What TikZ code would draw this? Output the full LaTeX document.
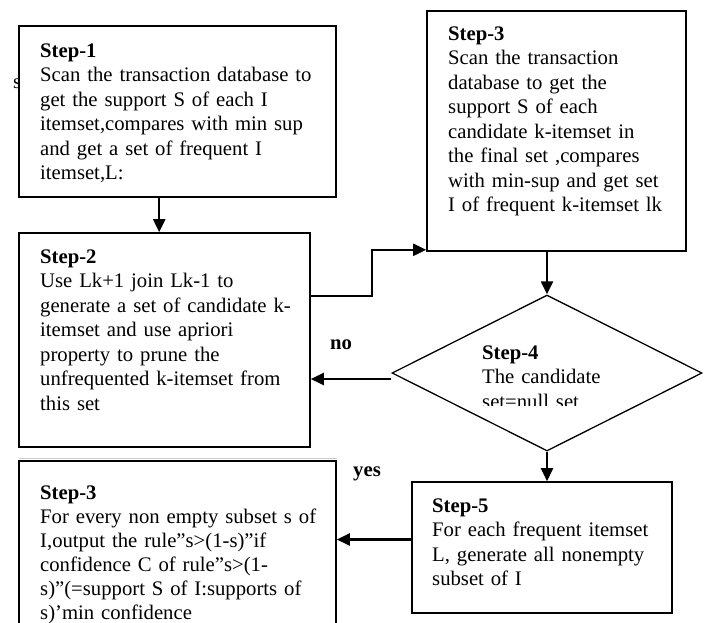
\documentclass[tikz,border=0pt]{standalone}
\usepackage{fontspec}
\setmainfont{Liberation Serif}
\usetikzlibrary{shapes.geometric,arrows.meta,calc}
\tikzset{
  boxstyle/.style={draw=black, line width=1.6pt, fill=white, rectangle, inner sep=0pt},
  diastyle/.style={draw=black, line width=1.3pt, fill=white, diamond, inner sep=0pt},
  txt/.style={anchor=base west, inner sep=0pt, align=left, text width=320pt,
    font=\fontsize{20.7}{24.5}\selectfont},
  lbl/.style={inner sep=0pt, font=\fontsize{20.7}{24.5}\selectfont\bfseries},
  arr/.style={line width=2.2pt, -{Triangle[length=13pt,width=12pt]}},
}
\begin{document}
\begin{tikzpicture}[x=1pt,y=-1pt]
\useasboundingbox (0,0) rectangle (708,622);
% stray glyph behind step-1 box
\node[anchor=base west, inner sep=0pt, font=\fontsize{20.7}{24.5}\selectfont] (stray) at (13,88) {s};
% boxes
\node[boxstyle, minimum width=317pt, minimum height=171pt] (b1) at (177.5,111.5) {};
\node[boxstyle, minimum width=291pt, minimum height=214pt] (b2) at (164.5,340) {};
\node[boxstyle, minimum width=259pt, minimum height=240pt] (b3) at (556.5,131) {};
\node[diastyle, minimum width=310pt, minimum height=156pt] (d4) at (547,373) {};
\node[boxstyle, minimum width=260pt, minimum height=131pt] (b5) at (542,547.5) {};
\node[boxstyle, minimum width=317pt, minimum height=190pt] (b6) at (177.5,556) {};
\draw[line width=0.6pt, black!20] (19,458.5) -- (337,458.5);
% texts
\node[txt] (t1) at (40,57) {\textbf{Step-1}\\Scan the transaction database to\\get the support S of each I\\itemset,compares with min sup\\and get a set of frequent I\\itemset,L:};
\node[txt] (t2) at (40,263) {\textbf{Step-2}\\Use Lk+1 join Lk-1 to\\generate a set of candidate k-\\itemset and use apriori\\property to prune the\\unfrequented k-itemset from\\this set};
\node[txt] (t3) at (448,40) {\textbf{Step-3}\\Scan the transaction\\database to get the\\support S of each\\candidate k-itemset in\\the final set ,compares\\with min-sup and get set\\I of frequent k-itemset lk};
\begin{scope}
\clip (470,330) rectangle (640,405.5);
\node[txt] (t4) at (482,359) {\textbf{Step-4}\\The candidate\\set=null set};
\end{scope}
\node[txt] (t5) at (432,512) {\textbf{Step-5}\\For each frequent itemset\\L, generate all nonempty\\subset of I};
\node[txt, font=\fontsize{20.7}{24}\selectfont] (t6) at (40,499) {\textbf{Step-3}\\For every non empty subset s of\\I,output the rule”s>(1-s)”if\\confidence C of rule”s>(1-\\s)”(=support S of I:supports of\\s)’min confidence};
% labels
\node[lbl] (no) at (341,345) {no};
\node[lbl] (yes) at (367,474) {yes};
% connectors
\draw[arr] ([xshift=141pt]b1.south west) -- ([xshift=141pt]b2.north west);
\draw[arr] ([yshift=44pt]b2.east) -- ++(61,0) |- ([yshift=2pt]b3.south west);
\draw[arr] (b3.south -| d4.north) -- (d4.north);
\draw[arr] ([yshift=-6pt]d4.west) -- ([yshift=-6pt]d4.west -| b2.east);
\draw[arr] (d4.south) -- (d4.south |- b5.north);
\draw[arr] ([yshift=8pt]b5.west) -- ([yshift=8pt]b5.west -| b6.east);
\end{tikzpicture}
\end{document}
